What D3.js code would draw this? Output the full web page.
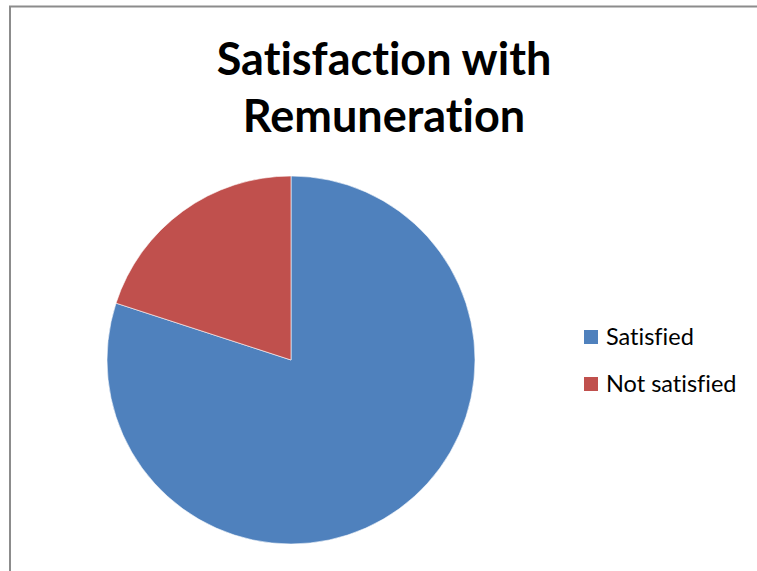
<!DOCTYPE html>
<html>
<head>
<meta charset="utf-8">
<script src="https://cdn.jsdelivr.net/npm/d3@7"></script>
<style>
  html, body { margin: 0; padding: 0; background: #ffffff; }
  svg { display: block; }
  text { font-variant-ligatures: none; }
</style>
</head>
<body>
<svg id="chart" width="757" height="571"></svg>
<script>
// Survey responses on remuneration (percent of respondents)
const categories = ["Satisfied", "Not satisfied"];
const values = [80, 20];
const colors = ["#4F81BD", "#C0504D"];
const titleLines = ["Satisfaction with", "Remuneration"];

const svg = d3.select("#chart");
const W = 757, H = 571;

// chart frame (left and top edges visible within the view)
svg.append("rect")
  .attr("x", 10).attr("y", 6.5)
  .attr("width", W + 20).attr("height", H + 20)
  .attr("fill", "#ffffff")
  .attr("stroke", "#8c8c8c")
  .attr("stroke-width", 2);

// title
const title = svg.append("text")
  .attr("text-anchor", "middle")
  .attr("font-family", "Lato, 'Open Sans', sans-serif")
  .attr("font-weight", "bold")
  .attr("font-size", 45)
  .attr("fill", "#000");
title.selectAll("tspan")
  .data(titleLines)
  .join("tspan")
  .attr("x", 384)
  .attr("y", (d, i) => 75 + i * 57)
  .text(d => d);

// pie
const cx = 291, cy = 360, r = 184;
const pie = d3.pie().sort(null).value(d => d.value);
const arc = d3.arc().innerRadius(0).outerRadius(r);
const data = categories.map((c, i) => ({ name: c, value: values[i], color: colors[i] }));

svg.append("g")
  .attr("transform", `translate(${cx},${cy})`)
  .selectAll("path")
  .data(pie(data))
  .join("path")
  .attr("d", arc)
  .attr("fill", d => d.data.color)
  .attr("stroke", "#ffffff")
  .attr("stroke-width", 0.6);

// legend
const legend = svg.append("g")
  .selectAll("g")
  .data(data)
  .join("g")
  .attr("transform", (d, i) => `translate(584, ${330 + i * 47})`);
legend.append("rect")
  .attr("width", 14).attr("height", 14)
  .attr("fill", d => d.color);
legend.append("text")
  .attr("x", 22).attr("y", 15)
  .attr("font-family", "Lato, 'Open Sans', sans-serif")
  .attr("font-size", 23.5)
  .attr("fill", "#000")
  .text(d => d.name);
</script>
</body>
</html>
